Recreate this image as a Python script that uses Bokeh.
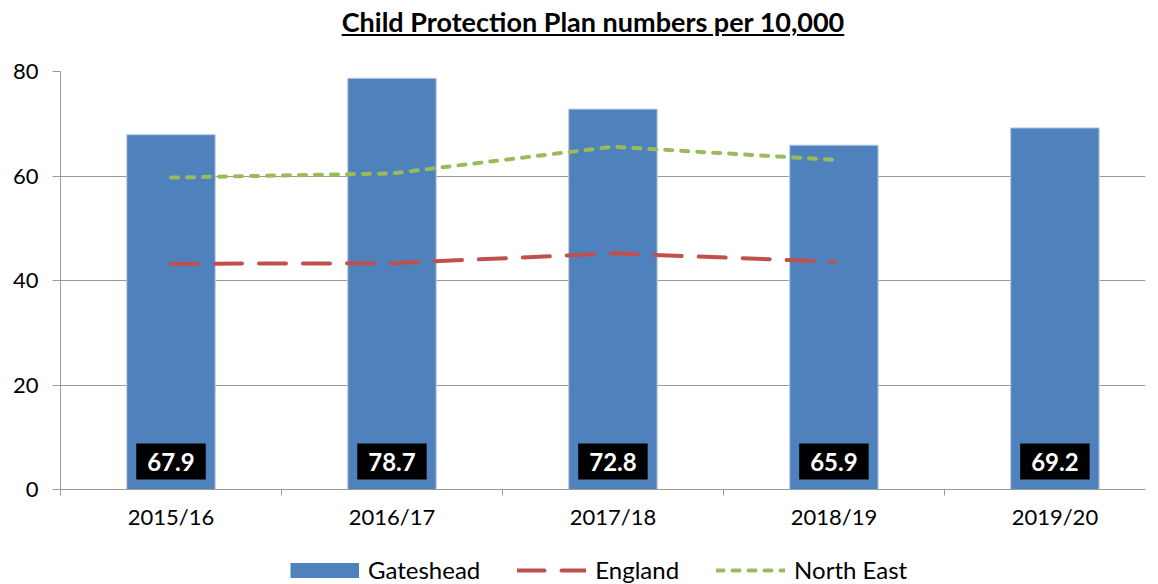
from bokeh.plotting import figure
from bokeh.models import (ColumnDataSource, FixedTicker, Legend, LegendItem, Div, Range1d)
from bokeh.layouts import column
from bokeh.embed import file_html
from bokeh.resources import INLINE
from bokeh.core.properties import value

# ---- data ----
categories = ["2015/16", "2016/17", "2017/18", "2018/19", "2019/20"]
gateshead = [67.9, 78.7, 72.8, 65.9, 69.2]
england = [43.2, 43.3, 45.2, 43.6]
north_east = [59.7, 60.5, 65.6, 63.1]
y_ticks = [0, 20, 40, 60, 80]
series_names = ["Gateshead", "England", "North East"]
title_text = "Child Protection Plan numbers per 10,000"

FONT = "Lato"
BLUE = "#4F81BD"
RED = "#C0504D"
GREEN = "#9BBB59"
GRID = "#9a9a9a"
W = 1158
X_END = 5.41   # plot area ends a little before the last category's right edge

pos = list(range(1, len(categories) + 1))

bar_src = ColumnDataSource(dict(x=pos, top=gateshead,
                                label=[f"{v:.1f}" for v in gateshead],
                                zero=[0] * len(pos)))
eng_src = ColumnDataSource(dict(x=pos[:len(england)], y=england))
ne_src = ColumnDataSource(dict(x=pos[:len(north_east)], y=north_east))

title = Div(text=f'<div style="width:{W}px;text-align:center;font-family:{FONT};'
                 f'font-weight:bold;font-size:27px;text-decoration:underline;'
                 f'line-height:30px;padding-top:7px;position:relative;left:14px;'
                 f'color:#000;">{title_text}</div>',
            width=W, height=48, margin=(0, 0, 0, 0))

p = figure(width=W, height=488, output_backend="svg", toolbar_location=None,
           x_range=Range1d(0.5, X_END), y_range=Range1d(0, 80),
           min_border_left=60, min_border_right=13, min_border_top=23, min_border_bottom=47,
           tools="")
p.outline_line_color = None
p.background_fill_color = "white"

BAR_STYLE = dict(fill_color=BLUE, line_color="#b9c9e2", line_width=1)
ENG_STYLE = dict(line_color=RED, line_width=4, line_dash="27 17", line_cap="round")
NE_STYLE = dict(line_color=GREEN, line_width=4, line_dash="7 9", line_cap="round")

p.vbar(x="x", top="top", width=0.4, source=bar_src, **BAR_STYLE)
p.line("x", "y", source=eng_src, **ENG_STYLE)
p.line("x", "y", source=ne_src, **NE_STYLE)

p.text(x="x", y="zero", text="label", source=bar_src,
       text_color="white", text_font=value(FONT), text_font_style="bold",
       text_font_size="24px", text_align="center", text_baseline="middle",
       y_offset=-28, background_fill_color="black", padding=(11, 9))

# y axis
p.yaxis.ticker = FixedTicker(ticks=y_ticks)
p.yaxis.major_label_text_font = FONT
p.yaxis.major_label_text_font_size = "22px"
p.yaxis.major_label_text_color = "black"
p.yaxis.axis_line_color = GRID
p.yaxis.major_tick_line_color = GRID
p.yaxis.major_tick_out = 8
p.yaxis.major_tick_in = 0
p.yaxis.minor_tick_line_color = None
p.yaxis.major_label_standoff = 14

# x axis
p.xaxis.ticker = FixedTicker(ticks=pos, minor_ticks=[x - 0.5 for x in pos] + [pos[-1] + 0.5])
p.xaxis.major_label_overrides = {x: c for x, c in zip(pos, categories)}
p.xaxis.major_label_text_font = FONT
p.xaxis.major_label_text_font_size = "22px"
p.xaxis.major_label_text_color = "black"
p.xaxis.major_tick_line_color = None
p.xaxis.minor_tick_line_color = GRID
p.xaxis.minor_tick_out = 6
p.xaxis.minor_tick_in = 0
p.xaxis.axis_line_color = GRID
p.xaxis.major_label_standoff = 7

p.xgrid.grid_line_color = None
p.ygrid.grid_line_color = GRID
p.ygrid.ticker = FixedTicker(ticks=y_ticks)

# legend strip: a small figure that shares the series sources, its view window
# kept clear of the data so only the legend keys show
lg = figure(width=W, height=48, output_backend="svg", toolbar_location=None,
            x_range=p.x_range, y_range=Range1d(1000, 1001), tools="",
            x_axis_type=None, y_axis_type=None, min_border=0)
lg.outline_line_color = None
lg.xgrid.grid_line_color = None
lg.ygrid.grid_line_color = None
# Gateshead key: a thick blue band (full key width, like the reference's swatch)
r_bar = lg.line(x="x", y="top", source=bar_src, line_color=BLUE, line_width=15,
                line_cap="butt")
r_eng = lg.line("x", "y", source=eng_src, **ENG_STYLE)
r_ne = lg.line("x", "y", source=ne_src, **NE_STYLE)

legend = Legend(items=[LegendItem(label=n, renderers=[r])
                       for n, r in zip(series_names, [r_bar, r_eng, r_ne])],
                orientation="horizontal", location=(230, 0),
                label_text_font=FONT, label_text_font_size="24px",
                label_text_color="black",
                glyph_width=69, glyph_height=16, label_standoff=9, spacing=37,
                padding=0, margin=0, border_line_color=None,
                background_fill_alpha=0)
lg.add_layout(legend, "center")

layout = column(title, p, lg, spacing=0)
open("out.html", "w").write(file_html(layout, INLINE))
